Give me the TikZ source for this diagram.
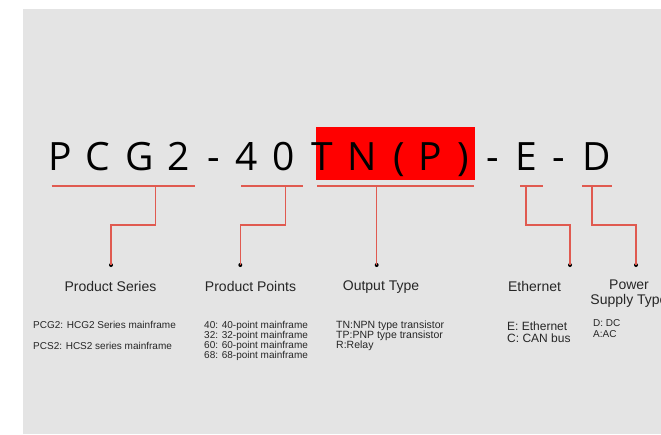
\documentclass[tikz,border=0pt]{standalone}
\usepackage{fontspec}
\setmainfont{Liberation Sans}
\newfontfamily\codefont{Open Sans}
\usetikzlibrary{calc,positioning}

\definecolor{bggray}{HTML}{E4E4E4}
\definecolor{linkred}{RGB}{224,90,80}
\definecolor{txtgray}{HTML}{262626}

\begin{document}
\begin{tikzpicture}[x=1pt,y=-1pt,
    code/.style={anchor=base,inner sep=0pt,font=\codefont\fontsize{39}{39}\selectfont},
    link/.style={draw=linkred,line width=1.2pt},
    tip/.style={circle,fill=black,inner sep=0pt,minimum size=4pt},
    head/.style={anchor=north,inner sep=0pt,align=center,text=txtgray,font=\fontsize{14}{14.5}\selectfont},
    info/.style={anchor=north west,inner sep=0pt,align=left,text=txtgray}]
		\useasboundingbox (0,0) rectangle (661,434);
		\fill[bggray] (23,9) rectangle (661,434);
		\fill[red] (315.7,127) rectangle (474.7,180);
		% model code
		\foreach \x/\c [count=\i] in {60/P,98/C,140/G,179/2,214/-,247/4,284/0,322/T,362/N,399/(,430/P,463/),492.5/-,526.5/E,559/-,596.5/D}
			\node[code] (c\i) at (\x,170) {\c};
		% underlines and stems
		\coordinate (b1w) at (51.7,186);  \coordinate (b1e) at (195.3,186); \coordinate (s1) at (155.7,186);
		\coordinate (b2w) at (241,186);   \coordinate (b2e) at (303,186);   \coordinate (s2) at (285.7,186);
		\coordinate (b3w) at (317,186);   \coordinate (b3e) at (473.7,186); \coordinate (s3) at (376.7,186);
		\coordinate (b4w) at (520,186);   \coordinate (b4e) at (542.7,186); \coordinate (s4) at (526,186);
		\coordinate (b5w) at (582,186);   \coordinate (b5e) at (612,186);   \coordinate (s5) at (592,186);
		\node[tip] (d1) at (111,265) {};
		\node[tip] (d2) at (240.3,265) {};
		\node[tip] (d3) at (376.7,265) {};
		\node[tip] (d4) at (570,265) {};
		\node[tip] (d5) at (636,265) {};
		\foreach \k in {1,...,5}
			\draw[link] (b\k w) -- (b\k e);
		\draw[link] (s1) -- ++(0,39) -| (d1.center);
		\draw[link] (s2) -- ++(0,39) -| (d2.center);
		\draw[link] (s3) -- (d3.center);
		\draw[link] (s4) -- ++(0,39) -| (d4.center);
		\draw[link] (s5) -- ++(0,39) -| (d5.center);
		% headings
		\node[head] (h1) at (110.5,281) {Product Series};
		\node[head] (h2) at (250.5,281) {Product Points};
		\node[head] (h3) at (381,281) {Output Type};
		\node[head] (h4) at (534.5,281) {Ethernet};
		\node[head] (h5) at (629,280) {Power\\Supply Type};
		% details
		\node[info,font=\fontsize{10}{21}\selectfont] (t1) at (33,321.3)
			{PCG2: HCG2 Series mainframe\\PCS2: HCS2 series mainframe};
		\node[info,font=\fontsize{10}{10}\selectfont] (t2) at (204,321.3)
			{40: 40-point mainframe\\32: 32-point mainframe\\60: 60-point mainframe\\68: 68-point mainframe};
		\node[info,font=\fontsize{10.5}{10}\selectfont] (t3) at (336,321)
			{TN:NPN type transistor\\TP:PNP type transistor\\R:Relay};
		\node[info,font=\fontsize{12}{12}\selectfont] (t4) at (507,321.5)
			{E: Ethernet\\C: CAN bus};
		\node[info,font=\fontsize{10}{11}\selectfont] (t5) at (593,319.4)
			{D: DC\\A:AC};
	\end{tikzpicture}
\end{document}
